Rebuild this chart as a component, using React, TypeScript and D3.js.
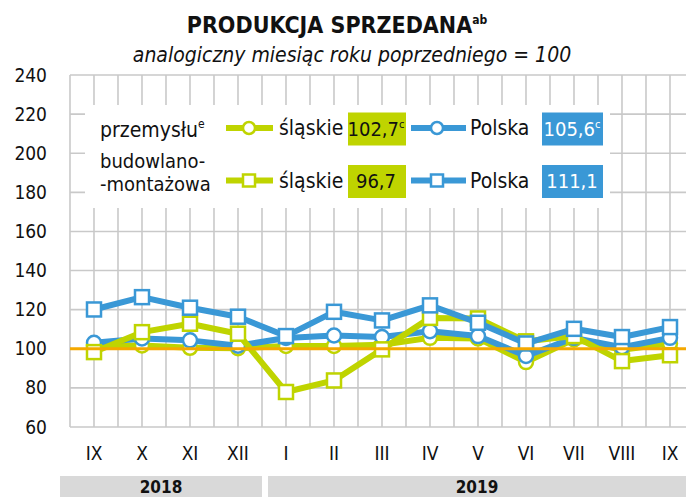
import React from "react";
import * as d3 from "d3";

const months = ["IX", "X", "XI", "XII", "I", "II", "III", "IV", "V", "VI", "VII", "VIII", "IX"];
const slaskiePrzemysl = [101.5, 101.7, 100.5, 100.3, 101.4, 101.4, 102.0, 105.6, 105.3, 93.2, 104.8, 99.5, 102.7];
const polskaPrzemysl = [103.1, 105.3, 104.3, 101.6, 105.5, 106.8, 106.0, 109.0, 106.5, 96.3, 105.6, 100.8, 105.6];
const slaskieBudowl = [98.3, 108.5, 112.8, 107.7, 77.9, 83.8, 99.7, 115.8, 115.5, 103.8, 106.5, 93.7, 96.7];
const polskaBudowl = [120.1, 126.4, 121.0, 116.4, 106.5, 118.9, 114.5, 122.2, 113.3, 102.7, 110.2, 106.0, 111.1];
const yTicks = [60, 80, 100, 120, 140, 160, 180, 200, 220, 240];
const years = [
  { label: "2018", from: 0, to: 3 },
  { label: "2019", from: 4, to: 12 },
];

const W = 686;
const H = 497;
const BLUE = "#3a98d6";
const GREEN = "#bfd400";
const ORANGE = "#f5a800";
const GRID = "#c9c9c9";
const FONT = "'Liberation Sans Narrow', 'DejaVu Sans Condensed', 'Open Sans', sans-serif";

export default function App() {
  const x = d3.scalePoint<number>().domain(d3.range(months.length)).range([94, 670]);
  const y = d3.scaleLinear().domain([60, 240]).range([427, 75]);
  const step = x.step();
  const left = x(0)! - step / 2;
  const vLines: number[] = [];
  for (let v = left; v <= W; v += step / 2) vLines.push(v);

  const line = d3
    .line<number>()
    .x((_, i) => x(i)!)
    .y((d) => y(d));

  const series = [
    { data: slaskiePrzemysl, color: GREEN, marker: "circle" },
    { data: polskaPrzemysl, color: BLUE, marker: "circle" },
    { data: slaskieBudowl, color: GREEN, marker: "square" },
    { data: polskaBudowl, color: BLUE, marker: "square" },
  ];

  const marker = (kind: string, cx: number, cy: number, color: string, key: any, size = 7) =>
    kind === "circle" ? (
      <circle key={key} cx={cx} cy={cy} r={size} fill="#fff" stroke={color} strokeWidth={2.5} />
    ) : (
      <rect key={key} x={cx - size} y={cy - size} width={size * 2} height={size * 2} fill="#fff" stroke={color} strokeWidth={2.5} />
    );

  const legendRows = [
    { y: 128, marker: "circle", sl: "102,7", slSup: "c", pl: "105,6", plSup: "c" },
    { y: 180.5, marker: "square", sl: "96,7", slSup: "", pl: "111,1", plSup: "" },
  ];

  return (
    <svg width={W} height={H} style={{ position: "absolute", left: 0, top: 0, background: "#fff" }} fontFamily={FONT}>
      {/* title */}
      <text x={337} y={33} textAnchor="middle" fontSize={23} fontWeight="bold" fill="#111">
        PRODUKCJA SPRZEDANA
        <tspan fontSize={12} dy={-9}>ab</tspan>
      </text>
      <text x={352} y={62} textAnchor="middle" fontSize={21} fontStyle="italic" fill="#111">
        analogiczny miesiąc roku poprzedniego = 100
      </text>

      {/* grid */}
      {yTicks.map((t) => (
        <line key={"h" + t} x1={left} x2={W} y1={y(t)} y2={y(t)} stroke={GRID} strokeWidth={1.6} />
      ))}
      {vLines.map((v, i) => (
        <line key={"v" + i} x1={v} x2={v} y1={y(240)} y2={y(60)} stroke={GRID} strokeWidth={1.6} />
      ))}

      {/* y labels */}
      {yTicks.map((t) => (
        <text key={"yl" + t} x={47} y={y(t) + 6.5} textAnchor="end" fontSize={19} fill="#111">
          {t}
        </text>
      ))}

      {/* x labels */}
      {months.map((m, i) => (
        <text key={"xl" + i} x={x(i)!} y={460} textAnchor="middle" fontSize={19} fill="#111">
          {m}
        </text>
      ))}

      {/* year bands */}
      {years.map((yr) => {
        const x0 = yr.from === 0 ? 60 : x(yr.from)! - step / 2 + 6;
        const x1 = yr.to === months.length - 1 ? W : x(yr.to)! + step / 2;
        return (
          <g key={yr.label}>
            <rect x={x0} y={476} width={x1 - x0} height={H - 476} fill="#d9d9d9" />
            <text x={(x0 + x1) / 2} y={493} textAnchor="middle" fontSize={17} fontWeight="bold" fill="#111">
              {yr.label}
            </text>
          </g>
        );
      })}

      {/* legend box */}
      <rect x={85} y={105} width={525} height={103} fill="#fff" />
      <text x={100} y={137} fontSize={21} fill="#111">
        przemysłu<tspan fontSize={12} dy={-9}>e</tspan>
      </text>
      <text x={100} y={168} fontSize={20} fill="#111">budowlano-</text>
      <text x={100} y={191} fontSize={20} fill="#111">-montażowa</text>
      {legendRows.map((r, k) => (
        <g key={"lg" + k}>
          <line x1={226} x2={273} y1={r.y} y2={r.y} stroke={GREEN} strokeWidth={6} />
          {marker(r.marker, 249, r.y, GREEN, "lm1", 6)}
          <text x={279} y={r.y + 7} fontSize={21} fill="#111">śląskie</text>
          <rect x={348} y={r.y - 15.5} width={58} height={33} fill={GREEN} />
          <text x={376} y={r.y + 7.5} textAnchor="middle" fontSize={20} fill="#111">
            {r.sl}
            {r.slSup && <tspan fontSize={11} dy={-8}>{r.slSup}</tspan>}
          </text>
          <line x1={411} x2={466} y1={r.y} y2={r.y} stroke={BLUE} strokeWidth={6} />
          {marker(r.marker, 437, r.y, BLUE, "lm2", 6)}
          <text x={470} y={r.y + 7} fontSize={21} fill="#111">Polska</text>
          <rect x={542} y={r.y - 15.5} width={61} height={33} fill={BLUE} />
          <text x={572} y={r.y + 7.5} textAnchor="middle" fontSize={20} fill="#fff">
            {r.pl}
            {r.plSup && <tspan fontSize={11} dy={-8}>{r.plSup}</tspan>}
          </text>
        </g>
      ))}

      {/* series */}
      {series.map((s, k) => (
        <g key={"s" + k}>
          <path d={line(s.data)!} fill="none" stroke={s.color} strokeWidth={6} strokeLinejoin="round" />
          {s.data.map((d, i) => marker(s.marker, x(i)!, y(d), s.color, i, 7))}
        </g>
      ))}

      {/* 100 reference line */}
      <line x1={left} x2={W} y1={y(100)} y2={y(100)} stroke={ORANGE} strokeWidth={3} />
    </svg>
  );
}
